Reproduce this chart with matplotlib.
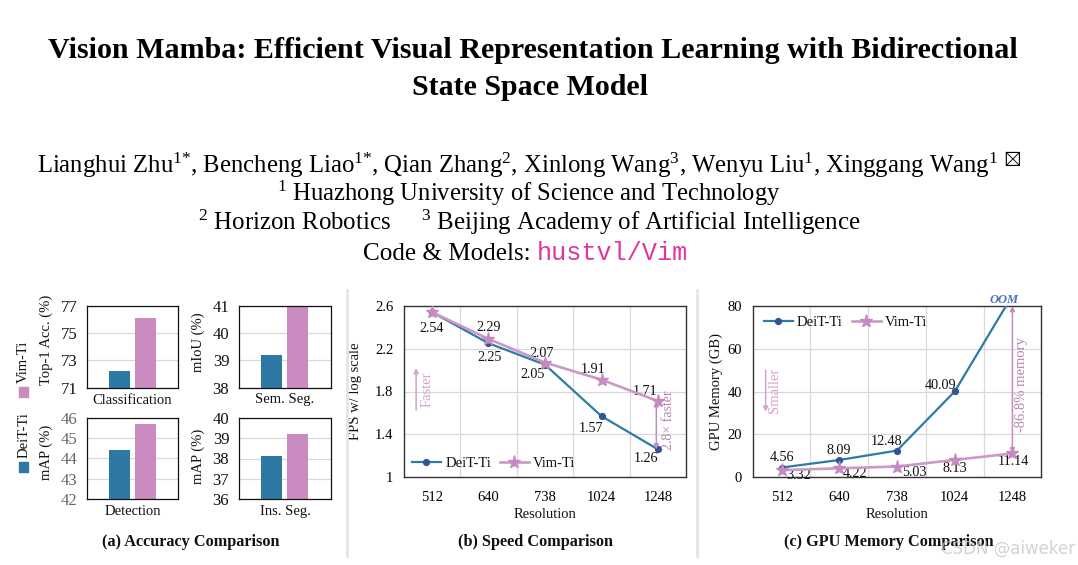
import numpy as np
import matplotlib
matplotlib.use('Agg')
import matplotlib.pyplot as plt
from matplotlib.patches import Rectangle
from matplotlib.lines import Line2D
from matplotlib.ticker import FixedLocator, FuncFormatter

plt.rcParams['font.family'] = ['Liberation Serif', 'DejaVu Serif', 'DejaVu Sans']
plt.rcParams['mathtext.fontset'] = 'custom'
plt.rcParams['mathtext.rm'] = 'Liberation Serif'
plt.rcParams['mathtext.it'] = 'Liberation Serif:italic'
plt.rcParams['mathtext.bf'] = 'Liberation Serif:bold'
plt.rcParams['mathtext.fallback'] = 'stix'
plt.rcParams['text.color'] = '#111111'
plt.rcParams['axes.labelcolor'] = '#111111'

# ---------------- data ----------------
title_line1 = 'Vision Mamba: Efficient Visual Representation Learning with Bidirectional'
title_line2 = 'State Space Model'
authors = ('Lianghui Zhu$^{1\\text{*}}$, Bencheng Liao$^{1\\text{*}}$, Qian Zhang$^{2}$, '
           'Xinlong Wang$^{3}$, Wenyu Liu$^{1}$, Xinggang Wang$^{1}$ $^{\\boxtimes}$')
affil1 = '$^{1}$ Huazhong University of Science and Technology'
affil2 = '$^{2}$ Horizon Robotics     $^{3}$ Beijing Academy of Artificial Intelligence'
code_label = 'Code & Models: '
code_link = 'hustvl/Vim'

series_names = ['DeiT-Ti', 'Vim-Ti']
acc_tasks = ['Classification', 'Sem. Seg.', 'Detection', 'Ins. Seg.']
acc_ylabels = ['Top-1 Acc. (%)', 'mIoU (%)', 'mAP (%)', 'mAP (%)']
acc_deit = [72.2, 39.2, 44.4, 38.1]
acc_vim = [76.1, 41.0, 45.7, 39.2]
acc_yticks = [[71, 73, 75, 77], [38, 39, 40, 41], [42, 43, 44, 45, 46], [36, 37, 38, 39, 40]]

resolutions = ['512', '640', '738', '1024', '1248']
fps_deit = [2.54, 2.25, 2.05, 1.57, 1.26]
fps_vim = [2.54, 2.29, 2.07, 1.91, 1.71]
fps_yticks = [1, 1.4, 1.8, 2.2, 2.6]
fps_gain = '2.8\u00d7 faster'

mem_deit = [4.56, 8.09, 12.48, 40.09, 85.0]   # 1248: OOM (line runs off the 80 GB top)
mem_deit_labels = ['4.56', '8.09', '12.48', '40.09', None]
mem_vim = [3.32, 4.22, 5.03, 8.13, 11.14]
mem_yticks = [0, 20, 40, 60, 80]
mem_gain = '-86.8% memory'
oom_label = 'OOM'

captions = ['(a) Accuracy Comparison', '(b) Speed Comparison', '(c) GPU Memory Comparison']
watermark = 'CSDN @aiweker'

# ---------------- style ----------------
W, H = 1078, 565
BLUE_BAR = '#2e79a3'
PINK_BAR = '#c98bc0'
BLUE_LINE = '#2e7ba3'
BLUE_MK = '#2f5597'
PINK_LINE = '#cc98c8'
PINK_MK = '#c58ac0'
PINK_TXT = '#d4a2cc'
GRID = '#d9d9d9'
PX2PT = 72.0 / 100.0

fig = plt.figure(figsize=(W / 100, H / 100), dpi=100)
fig.patch.set_facecolor('white')


def fpos(x, y):
    return (x / W, 1 - y / H)


def add_ax(x0, y0, x1, y1):
    return fig.add_axes([x0 / W, 1 - y1 / H, (x1 - x0) / W, (y1 - y0) / H])


renderer = fig.canvas.get_renderer()


def fit_line(pieces, xl, xr, ybase, base=12):
    texts = [fig.text(0, 0, s, fontsize=base, ha='left', va='baseline', **kw) for s, kw in pieces]
    widths = [t.get_window_extent(renderer).width for t in texts]
    scale = (xr - xl) / sum(widths)
    for t in texts:
        t.set_fontsize(base * scale)
    widths = [t.get_window_extent(renderer).width for t in texts]
    x = xl
    for t, w in zip(texts, widths):
        t.set_position(fpos(x, ybase))
        x += w


# ---------------- header ----------------
fit_line([(title_line1, dict(fontweight='bold', color='black'))], 47.5, 1012, 57.5)
fit_line([(title_line2, dict(fontweight='bold', color='black'))], 411.5, 646, 94.5)
fit_line([(authors, dict(color='black'))], 37, 1020, 173.5)
fit_line([(affil1, dict(color='black'))], 277, 780, 201.5)
fit_line([(affil2, dict(color='black'))], 198, 860, 230.5)
fit_line([(code_label, dict(color='black')),
          (code_link, dict(family='Liberation Mono', color='#e0369c'))], 363, 688, 259.5)


def style_box(ax, color='#222222', lw=0.9):
    for s in ax.spines.values():
        s.set_color(color)
        s.set_linewidth(lw)


# ---------------- panel (a) ----------------
boxes = [(87, 305.7, 178, 387.7), (239, 305.7, 331, 387.7),
         (87, 417.7, 178, 499.3), (239, 417.7, 331, 499.3)]
tick_colors = ['#111111', '#111111', '#666666', '#111111']
ylab_y = [0.58, 0.56, 0.57, 0.53]
for i, box in enumerate(boxes):
    ax = add_ax(*box)
    ax.bar([0], [acc_deit[i]], width=0.8, color=BLUE_BAR, zorder=2)
    ax.bar([1], [acc_vim[i]], width=0.8, color=PINK_BAR, zorder=2)
    ax.set_xlim(-1.235, 2.265)
    ax.set_ylim(acc_yticks[i][0], acc_yticks[i][-1])
    ax.set_yticks(acc_yticks[i])
    ax.set_xticks([])
    ax.yaxis.grid(True, color=GRID, lw=0.9, zorder=0)
    ax.set_axisbelow(True)
    ax.tick_params(axis='y', length=0, pad=7, labelsize=12, labelcolor=tick_colors[i])
    style_box(ax, '#111111', 0.9)
    ax.set_ylabel(acc_ylabels[i], fontsize=10.5, va='center')
    ax.yaxis.set_label_coords(-0.445, ylab_y[i])
    ax.text(0.5, -0.15, acc_tasks[i], transform=ax.transAxes, ha='center', va='center', fontsize=10.5)

# rotated legend for panel (a)
fig.patches.append(Rectangle(fpos(19.3, 396.7), 9 / W, 10 / H, transform=fig.transFigure,
                             color=PINK_BAR, figure=fig))
fig.patches.append(Rectangle(fpos(19.3, 471.7), 9 / W, 10 / H, transform=fig.transFigure,
                             color=BLUE_BAR, figure=fig))
fig.text(*fpos(23.8, 362), series_names[1], rotation=90, ha='center', va='center', fontsize=10.5)
fig.text(*fpos(23.8, 435), series_names[0], rotation=90, ha='center', va='center', fontsize=10.5)


def line_axes(ax, yticks, fmt):
    x = np.arange(len(resolutions))
    ax.set_xlim(-0.49, len(resolutions) - 0.51)
    ax.set_ylim(yticks[0], yticks[-1])
    ax.set_xticks(x)
    ax.set_xticklabels(resolutions)
    ax.set_yticks(yticks)
    ax.yaxis.set_major_formatter(FuncFormatter(fmt))
    ax.xaxis.set_minor_locator(FixedLocator(x[:-1] + 0.5))
    ax.yaxis.grid(True, which='major', color=GRID, lw=0.9)
    ax.xaxis.grid(True, which='minor', color=GRID, lw=0.9)
    ax.set_axisbelow(True)
    ax.tick_params(axis='both', which='both', length=0)
    ax.tick_params(axis='x', pad=10, labelsize=10.5)
    ax.tick_params(axis='y', pad=8, labelsize=10.5)
    style_box(ax, '#333333', 1.0)
    ax.set_xlabel('Resolution', fontsize=10.5, labelpad=3)
    return x


def add_label(ax, text, xy, off):
    dx, dy = off
    ax.annotate(text, xy, xytext=(dx * PX2PT, dy * PX2PT), textcoords='offset points',
                ha='center', va='center', fontsize=10.2)


# ---------------- panel (b) ----------------
axb = add_ax(404.3, 305.7, 685.7, 477.3)
xb = line_axes(axb, fps_yticks, lambda v, p: f'{v:g}')
axb.plot(xb, fps_deit, color=BLUE_LINE, lw=1.6, marker='o', ms=4.2, mfc=BLUE_MK, mec=BLUE_MK,
         label=series_names[0], zorder=3)
axb.plot(xb, fps_vim, color=PINK_LINE, lw=1.9, marker='*', ms=9.5, mfc=PINK_MK, mec=PINK_MK,
         label=series_names[1], zorder=4)
axb.set_ylabel('FPS w/ log scale', fontsize=10.5, va='center')
axb.yaxis.set_label_coords(-0.175, 0.5)
deit_off_b = [(0, -16), (1, -14), (-12, -10), (-10, -12), (-12, -9)]
vim_off_b = [None, (0, 11), (-3, 9), (-8, 10), (-13, 10)]
for i, v in enumerate(fps_deit):
    add_label(axb, f'{v:.2f}', (xb[i], v), deit_off_b[i])
for i, v in enumerate(fps_vim):
    if vim_off_b[i] is not None:
        add_label(axb, f'{v:.2f}', (xb[i], v), vim_off_b[i])
axb.annotate('', xy=(xb[-1] - 0.03, fps_deit[-1]), xytext=(xb[-1] - 0.03, fps_vim[-1]),
             arrowprops=dict(arrowstyle='<|-|>', color='#c58ac0', lw=1.1, shrinkA=0, shrinkB=0,
                             mutation_scale=7))
axb.text(0.94, 0.335, fps_gain, transform=axb.transAxes, rotation=90, ha='center', va='center',
         fontsize=10, color='#b883b3')
axb.annotate('', xy=(0.042, 0.637), xytext=(0.042, 0.392), xycoords='axes fraction',
             arrowprops=dict(arrowstyle='-|>', color=PINK_TXT, lw=1.1, shrinkA=0, shrinkB=0,
                             mutation_scale=7))
axb.text(0.081, 0.511, 'Faster', transform=axb.transAxes, rotation=90, ha='center', va='center',
         fontsize=10.5, color=PINK_TXT)
axb.legend(loc='lower left', bbox_to_anchor=(0.0, 0.0), frameon=False, ncol=2, fontsize=10.5,
           handlelength=2.0, columnspacing=0.6, handletextpad=0.3, borderaxespad=0.1)

# ---------------- panel (c) ----------------
axc = add_ax(753.3, 306, 1040.7, 477.3)
xc = line_axes(axc, mem_yticks, lambda v, p: f'{v:g}')
axc.plot(xc, mem_deit, color=BLUE_LINE, lw=1.6, marker='o', ms=4.2, mfc=BLUE_MK, mec=BLUE_MK,
         label=series_names[0], zorder=3)
axc.plot(xc, mem_vim, color=PINK_LINE, lw=1.9, marker='*', ms=9.5, mfc=PINK_MK, mec=PINK_MK,
         label=series_names[1], zorder=4)
axc.set_ylabel('GPU Memory (GB)', fontsize=10.5, va='center')
axc.yaxis.set_label_coords(-0.13, 0.5)
deit_off_c = [(0, 10), (-1, 9), (-10, 9), (-14, 6), None]
vim_off_c = [(17, -5), (16, -5), (17, -6), (0, -9), (1, -8)]
for i, v in enumerate(mem_deit):
    if mem_deit_labels[i] is not None:
        add_label(axc, mem_deit_labels[i], (xc[i], v), deit_off_c[i])
for i, v in enumerate(mem_vim):
    add_label(axc, f'{v:.2f}', (xc[i], v), vim_off_c[i])
axc.annotate('', xy=(xc[-1], mem_yticks[-1]), xytext=(xc[-1], mem_vim[-1]),
             arrowprops=dict(arrowstyle='<|-|>', color='#c58ac0', lw=1.1, shrinkA=0, shrinkB=0,
                             mutation_scale=7), annotation_clip=False)
axc.text(0.934, 0.539, mem_gain, transform=axc.transAxes, rotation=90, ha='center', va='center',
         fontsize=10.5, color='#b883b3')
axc.annotate('', xy=(0.043, 0.383), xytext=(0.043, 0.626), xycoords='axes fraction',
             arrowprops=dict(arrowstyle='-|>', color=PINK_TXT, lw=1.1, shrinkA=0, shrinkB=0,
                             mutation_scale=7))
axc.text(0.0755, 0.51, 'Smaller', transform=axc.transAxes, rotation=90, ha='center', va='center',
         fontsize=10.5, color=PINK_TXT)
axc.text(0.872, 1.035, oom_label, transform=axc.transAxes, ha='center', va='center',
         fontsize=9, fontweight='bold', fontstyle='italic', color='#4a72bf')
axc.legend(loc='upper left', bbox_to_anchor=(0.0, 1.0), frameon=False, ncol=2, fontsize=10.5,
           handlelength=2.0, columnspacing=0.6, handletextpad=0.3, borderaxespad=0.3)

# ---------------- captions, separators, watermark ----------------
for cx, cap in zip([191, 535, 889], captions):
    fig.text(*fpos(cx, 542.5), cap, ha='center', va='center', fontsize=11.7, fontweight='bold')
for sx in [347, 697]:
    fig.add_artist(Line2D([sx / W, sx / W], [1 - 290 / H, 1 - 556 / H], transform=fig.transFigure,
                          color='#e4e4ee', lw=2.0))
fig.text(*fpos(1075, 549), watermark, ha='right', va='center', fontsize=12,
         family='DejaVu Sans', color='#c4c4c4', alpha=0.75)

fig.savefig('out.png', dpi=100, facecolor='white')
